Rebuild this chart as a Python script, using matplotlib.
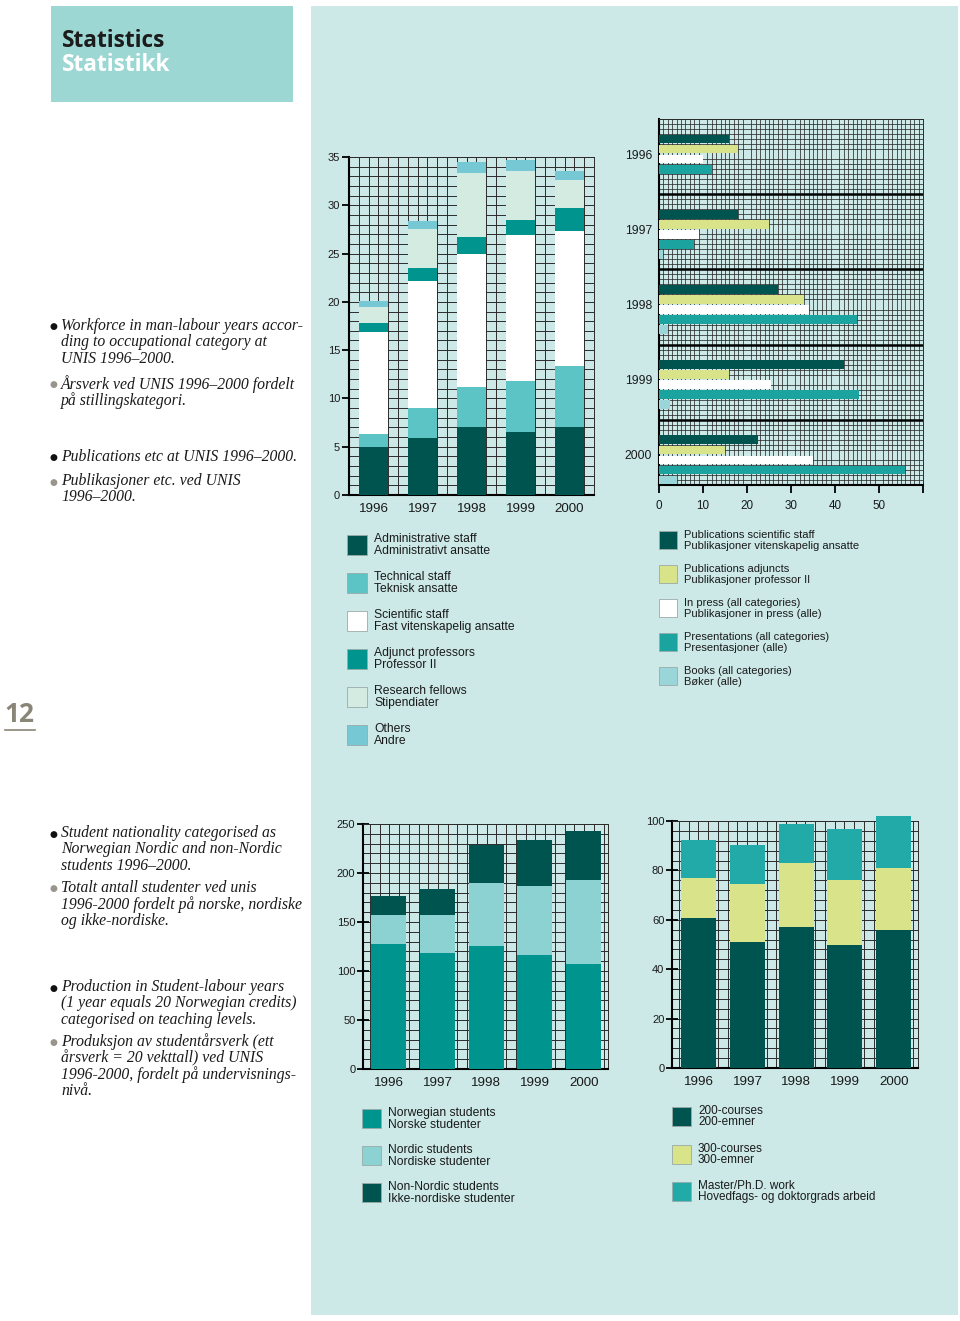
#!/usr/bin/env python3
"""
UNIS statistics page 1996-2000: workforce, publications, students and
student production, redrawn as four bar charts on one page.
"""
import numpy as np
import matplotlib
matplotlib.use('Agg')
from matplotlib import pyplot as plt
from matplotlib.patches import Rectangle
from matplotlib.lines import Line2D

W, H = 960, 1321

years = ['1996', '1997', '1998', '1999', '2000']

# workforce in man-labour years
staff_admin = [5.0, 5.9, 7.0, 6.5, 7.0]
staff_tech = [1.3, 3.1, 4.2, 5.3, 6.4]
staff_sci = [10.6, 13.2, 13.8, 15.1, 13.9]
staff_adj = [0.9, 1.3, 1.7, 1.6, 2.4]
staff_fellows = [1.7, 4.0, 6.6, 5.1, 2.9]
staff_other = [0.6, 0.9, 1.2, 1.1, 1.0]

# publications etc
pub_sci = [16, 18, 27, 42, 22.5]
pub_adj = [18, 25, 33, 16, 15]
pub_press = [10, 9, 34, 25.5, 35]
pub_present = [12, 8, 45, 45.5, 56]
pub_books = [0, 1, 2, 2.5, 4]

# students by nationality
stud_norw = [128, 118, 126, 116, 107]
stud_nordic = [29, 39, 64, 71, 86]
stud_non = [20, 27, 39, 46.5, 50]

# student-labour years by level
prod_200 = [60.6, 51.2, 57.2, 49.8, 55.9]
prod_300 = [16.3, 23.1, 25.9, 26.2, 24.9]
prod_master = [15.4, 16.1, 15.8, 20.8, 21.1]

staff_labels = [('Administrative staff', 'Administrativt ansatte'),
                ('Technical staff', 'Teknisk ansatte'),
                ('Scientific staff', 'Fast vitenskapelig ansatte'),
                ('Adjunct professors', 'Professor II'),
                ('Research fellows', 'Stipendiater'),
                ('Others', 'Andre')]
pub_labels = [('Publications scientific staff', 'Publikasjoner vitenskapelig ansatte'),
              ('Publications adjuncts', 'Publikasjoner professor II'),
              ('In press (all categories)', 'Publikasjoner in press (alle)'),
              ('Presentations (all categories)', 'Presentasjoner (alle)'),
              ('Books (all categories)', 'Bøker (alle)')]
stud_labels = [('Norwegian students', 'Norske studenter'),
               ('Nordic students', 'Nordiske studenter'),
               ('Non-Nordic students', 'Ikke-nordiske studenter')]
prod_labels = [('200-courses', '200-emner'),
               ('300-courses', '300-emner'),
               ('Master/Ph.D. work', 'Hovedfags- og doktorgrads arbeid')]

DARK = '#00544f'
TECH = '#5cc4c4'
ADJ = '#00948e'
FELLOW = '#d4ebe1'
OTHER = '#76c9d4'
YELLOW = '#d8e38a'
PRESENT = '#1aa39f'
BOOKS = '#9ad6d9'
NORDIC = '#8dd2d2'
MASTER = '#22aaa8'
PANEL = '#cce9e8'
HEAD = '#9dd7d4'
GRID = '#2b2b2b'

staff_colors = [DARK, TECH, 'white', ADJ, FELLOW, OTHER]
pub_colors = [DARK, YELLOW, 'white', PRESENT, BOOKS]
stud_colors = [ADJ, NORDIC, DARK]
prod_colors = [DARK, YELLOW, MASTER]

SANS = 'Liberation Sans'
SERIF = 'Liberation Serif'

fig = plt.figure(figsize=(W / 100, H / 100), dpi=100)
fig.patch.set_facecolor('white')


def frect(x, y, w, h, **kw):
    r = Rectangle((x / W, 1 - (y + h) / H), w / W, h / H,
                  transform=fig.transFigure, **kw)
    fig.add_artist(r)
    return r


def ftext(x, y, s, **kw):
    return fig.text(x / W, 1 - y / H, s, **kw)


def px_axes(x0, y0, x1, y1):
    ax = fig.add_axes([x0 / W, 1 - y1 / H, (x1 - x0) / W, (y1 - y0) / H])
    ax.patch.set_alpha(0)
    return ax


def frame(ax, lw=1.5):
    for side in ('left', 'bottom'):
        ax.spines[side].set_linewidth(lw)
        ax.spines[side].set_color('black')
    for side in ('top', 'right'):
        ax.spines[side].set_linewidth(0.7)
        ax.spines[side].set_color(GRID)


def legend(x, y0, step, size, labels, colors, fs):
    for i, ((l1, l2), col) in enumerate(zip(labels, colors)):
        top = y0 + i * step
        frect(x, top, size, size, fc=col, ec='#9aaaa8', lw=0.6)
        ftext(x + size + 7, top + 4, l1, fontsize=fs, family=SANS,
              color='#1a1a1a', va='center')
        ftext(x + size + 7, top + 4 + fs * 1.33, l2, fontsize=fs, family=SANS,
              color='#1a1a1a', va='center')


def vstack(ax, series, colors, width, clip=True):
    x = np.arange(len(years))
    bottom = np.zeros(len(years))
    for vals, col in zip(series, colors):
        ax.bar(x, vals, width, bottom=bottom, color=col, zorder=3,
               clip_on=clip)
        bottom += np.array(vals)


def column_axes(ax, xmin, ymax, major, minor, width):
    ax.set_xlim(xmin, 4.5)
    ax.set_ylim(0, ymax)
    ax.set_xticks(np.arange(len(years)))
    ax.set_xticklabels(years, family=SANS, fontsize=9.6, color='#1a1a1a')
    ax.set_xticks(np.arange(xmin + (0.5 - width / 2) % 0.2, 4.5, 0.2), minor=True)
    ax.set_yticks(np.arange(0, ymax + 1, major))
    ax.set_yticks(np.arange(0, ymax + 1, minor), minor=True)
    for lab in ax.get_yticklabels():
        lab.set_family(SANS)
        lab.set_fontsize(8.0)
        lab.set_color('#1a1a1a')
    ax.grid(which='minor', axis='x', color=GRID, lw=0.7)
    ax.grid(which='both', axis='y', color=GRID, lw=0.7)
    ax.set_axisbelow(True)
    ax.tick_params(axis='x', which='both', length=0, pad=6)
    ax.tick_params(axis='y', which='major', length=5, width=1.3, pad=1.5)
    ax.tick_params(axis='y', which='minor', length=0)
    frame(ax)


# page background
frect(311, 6, 647, 1309, fc=PANEL, ec='none', zorder=-2)
frect(51, 6, 242, 96, fc=HEAD, ec='none', zorder=-2)
ftext(62, 41, 'Statistics', fontsize=16.3, fontweight='bold', family='Open Sans',
      color='#1c1c1c', va='center')
ftext(62, 65, 'Statistikk', fontsize=16.3, fontweight='bold', family='Open Sans',
      color='white', va='center')

ftext(4, 715, '12', fontsize=19, fontweight='bold', family='Open Sans',
      color='#8a8677', va='center')
fig.add_artist(Line2D([5 / W, 35 / W], [1 - 730 / H] * 2, color='#8a8677',
                      lw=1.2, transform=fig.transFigure))

# left hand captions
captions = [
    (326, 'k', ['Workforce in man-labour years accor-',
                'ding to occupational category at', 'UNIS 1996–2000.']),
    (384, 'g', ['Årsverk ved UNIS 1996–2000 fordelt', 'på stillingskategori.']),
    (457, 'k', ['Publications etc at UNIS 1996–2000.']),
    (481, 'g', ['Publikasjoner etc. ved UNIS', '1996–2000.']),
    (833, 'k', ['Student nationality categorised as',
                'Norwegian Nordic and non-Nordic', 'students 1996–2000.']),
    (888, 'g', ['Totalt antall studenter ved unis',
                '1996-2000 fordelt på norske, nordiske', 'og ikke-nordiske.']),
    (987, 'k', ['Production in Student-labour years',
                '(1 year equals 20 Norwegian credits)',
                'categorised on teaching levels.']),
    (1042, 'g', ['Produksjon av studentårsverk (ett',
                 'årsverk = 20 vekttall) ved UNIS',
                 '1996-2000, fordelt på undervisnings-', 'nivå.']),
]
for y, bullet, lines in captions:
    ftext(49, y + 1, '●', fontsize=6.5, family='DejaVu Sans', va='center',
          color='#111111' if bullet == 'k' else '#9a958c')
    for i, line in enumerate(lines):
        ftext(61, y + i * 16.4, line, fontsize=11.3, family=SERIF,
              style='italic', color='#1a1a1a', va='center')

# workforce chart
ax1 = px_axes(349, 157, 594, 495)
vstack(ax1, [staff_admin, staff_tech, staff_sci, staff_adj, staff_fellows,
             staff_other], staff_colors, 0.6)
column_axes(ax1, -0.5, 35, 5, 1, 0.6)

# publications chart
ax2 = px_axes(659, 119, 923, 485)
grp = 15 * np.arange(len(years))
pubs = [pub_sci, pub_adj, pub_press, pub_present, pub_books]
for j, (vals, col) in enumerate(zip(pubs, pub_colors)):
    ax2.barh(grp + 4 + 2 * j, vals, height=1.75, color=col, zorder=3)
ax2.hlines(grp[1:], 0, 60, color='black', lw=1.8, zorder=4)
ax2.set_xlim(0, 60)
ax2.set_ylim(73, 0)
ax2.set_yticks(grp + 7)
ax2.set_yticklabels(years, family=SANS, fontsize=8.8, color='#1a1a1a')
ax2.set_yticks(np.arange(0, 74, 1), minor=True)
ax2.set_xticks(np.arange(0, 61, 10))
ax2.set_xticklabels(['0', '10', '20', '30', '40', '50', ''], family=SANS,
                    fontsize=8.4, color='#1a1a1a')
ax2.set_xticks(np.arange(0, 61, 1), minor=True)
ax2.grid(which='minor', color=GRID, lw=0.55)
ax2.set_axisbelow(True)
ax2.tick_params(axis='y', which='both', length=0, pad=5)
ax2.tick_params(axis='x', which='major', length=6, width=1.3, pad=5)
ax2.tick_params(axis='x', which='minor', length=0)
frame(ax2)

legend(347, 535, 38, 20, staff_labels, staff_colors, 8.7)
legend(659, 531, 34, 18, pub_labels, pub_colors, 8.0)

# students chart
ax3 = px_axes(363, 824, 608, 1069)
vstack(ax3, [stud_norw, stud_nordic, stud_non], stud_colors, 0.72)
column_axes(ax3, -0.53, 250, 50, 10, 0.72)
ax3.tick_params(axis='y', which='major', direction='inout', length=9, pad=1)

# production chart
ax4 = px_axes(672, 821, 918, 1068)
vstack(ax4, [prod_200, prod_300, prod_master], prod_colors, 0.72, clip=False)
column_axes(ax4, -0.55, 100, 20, 4, 0.72)
ax4.tick_params(axis='y', which='major', direction='inout', length=9, pad=1)

legend(362, 1109, 37, 19, stud_labels, stud_colors, 8.7)
legend(672, 1107, 37.5, 19, prod_labels, prod_colors, 8.5)

fig.savefig('out.png', dpi=100, facecolor='white')
